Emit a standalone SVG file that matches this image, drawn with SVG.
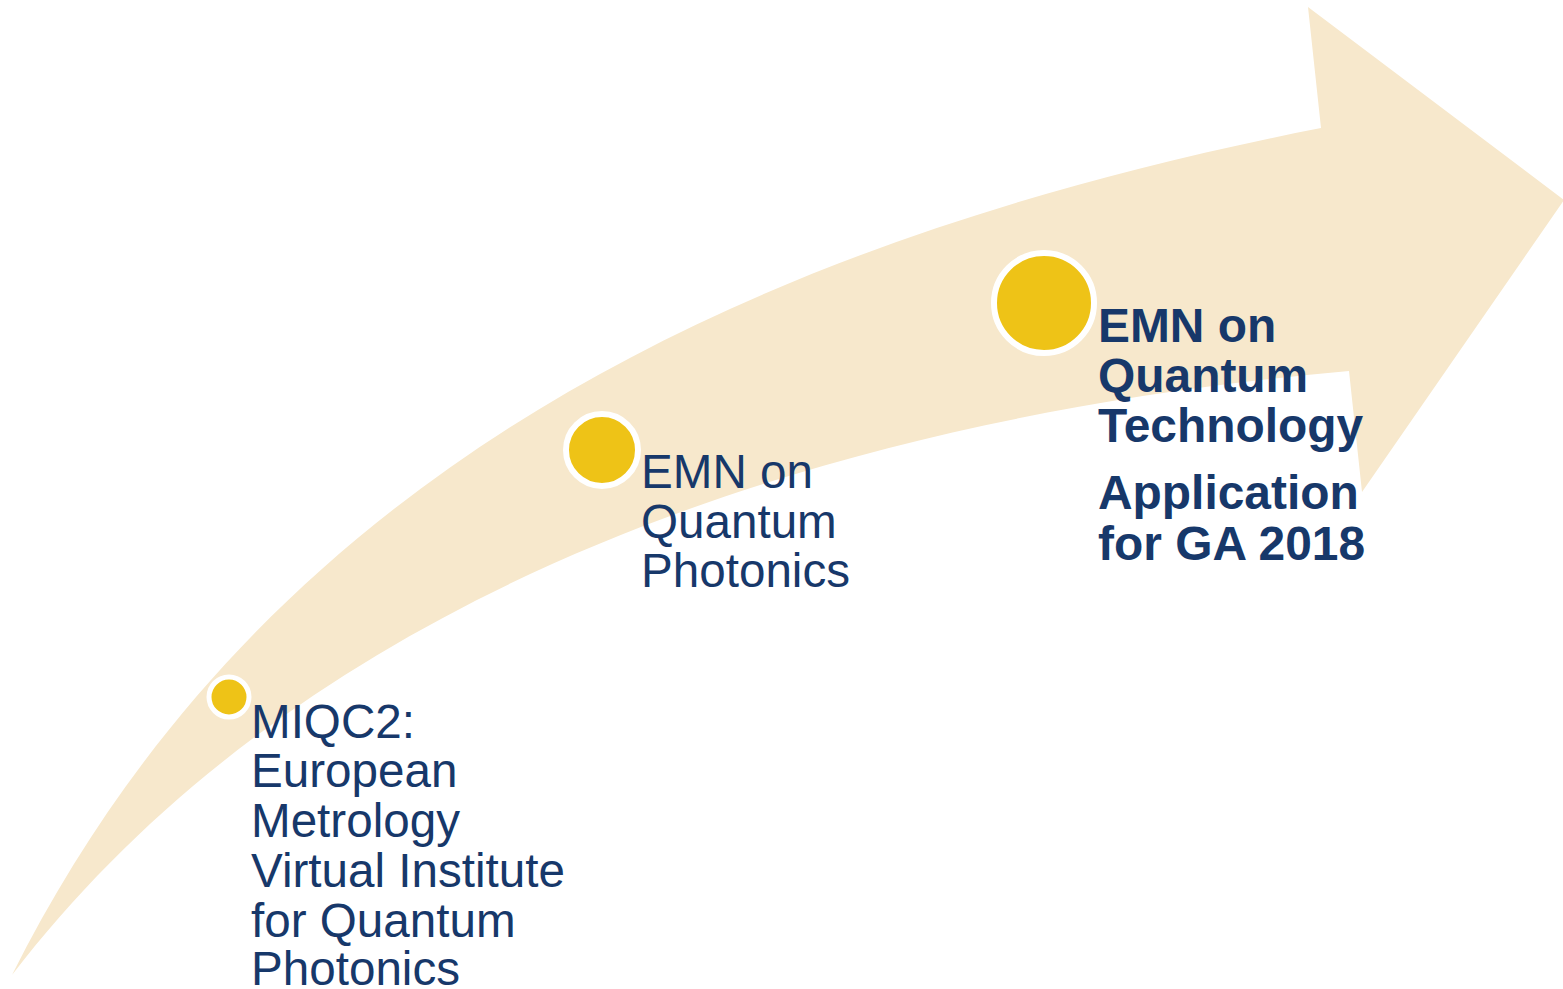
<svg xmlns="http://www.w3.org/2000/svg" width="1563" height="989" viewBox="0 0 1563 989">
  <style>
    .band { fill: #F7E8CC; }
    .dot { fill: #EEC317; stroke: #FFFFFF; }
    .label { font-family: "Liberation Sans", Arial, sans-serif; font-size: 47.6px; fill: #17386A; }
    .bold { font-weight: bold; font-size: 47.9px; }
  </style>
  <rect width="1563" height="989" fill="#FFFFFF"/>
  <!-- curved rising arrow -->
  <g id="arrow">
    <path class="band" d="M12,975 C250,500 700,250 1321,128 L1308,7 L1564,200 L1362,492 L1349,371 C800,420 300,600 12,975 Z"/>
  </g>
  <g id="node-miqc2">
    <circle class="dot" cx="229" cy="697" r="20" stroke-width="5"/>
    <text class="label" x="251">
      <tspan x="251" y="738">MIQC2:</tspan>
      <tspan x="251" y="787">European</tspan>
      <tspan x="251" y="837">Metrology</tspan>
      <tspan x="251" y="887">Virtual Institute</tspan>
      <tspan x="251" y="937">for Quantum</tspan>
      <tspan x="251" y="985">Photonics</tspan>
    </text>
  </g>
  <g id="node-photonics">
    <circle class="dot" cx="602" cy="450" r="36" stroke-width="6"/>
    <text class="label" x="641">
      <tspan x="641" y="488">EMN on</tspan>
      <tspan x="641" y="538">Quantum</tspan>
      <tspan x="641" y="587">Photonics</tspan>
    </text>
  </g>
  <g id="node-technology">
    <circle class="dot" cx="1044" cy="303" r="50" stroke-width="6"/>
    <text class="label bold" x="1098">
      <tspan x="1098" y="342">EMN on</tspan>
      <tspan x="1098" y="392">Quantum</tspan>
      <tspan x="1098" y="442">Technology</tspan>
      <tspan x="1098" y="509">Application</tspan>
      <tspan x="1098" y="560">for GA 2018</tspan>
    </text>
  </g>
</svg>
